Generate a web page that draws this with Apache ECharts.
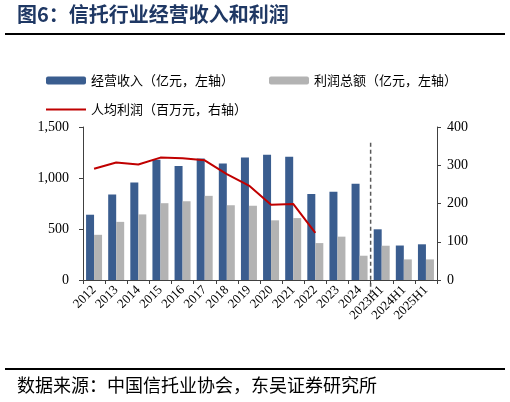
<!DOCTYPE html>
<html>
<head>
<meta charset="utf-8">
<script src="https://cdn.jsdelivr.net/npm/echarts@6/dist/echarts.min.js"></script>
<style>
  html, body { margin: 0; padding: 0; background: #fff; }
  #main { width: 510px; height: 402px; }
</style>
</head>
<body>
<div id="main"></div>
<script>
// 类目（年度 + 半年度）
var categories = ['2012', '2013', '2014', '2015', '2016', '2017', '2018', '2019', '2020',
  '2021', '2022', '2023', '2024', '2023H1', '2024H1', '2025H1'];
// 经营收入（亿元，左轴）
var revenue = [640, 838, 957, 1178, 1118, 1190, 1142, 1200, 1228, 1208, 843, 865, 943, 497, 338, 350];
// 利润总额（亿元，左轴）
var profit = [443, 570, 643, 753, 772, 825, 733, 728, 585, 607, 362, 425, 238, 336, 202, 202];
// 人均利润（百万元，右轴）
var perCapita = [291, 307, 302, 320, 318, 313, 277, 247, 197, 199, 123, null, null, null, null, null];
// 左右轴刻度
var leftTicks = [0, 1500, 500];
var rightTicks = [0, 400, 100];
// 年度与半年度的分界（第几个类目之后），虚线上下端（左轴数值）
var splitAt = 13;
var splitRange = [1345, -150];

var serif = 'Liberation Serif';
var cjk = 'Noto Sans CJK SC';
var axisColor = '#404040';

var chart = echarts.init(document.getElementById('main'));

function thousands(v) {
  return String(v).replace(/\B(?=(\d{3})+(?!\d))/g, ',');
}

var legendText = { fontSize: 13, fontFamily: cjk, color: '#000' };

var option = {
  backgroundColor: '#fff',
  animation: false,
  graphic: [
    { type: 'text', left: 17, top: 4,
      style: { text: '图6：信托行业经营收入和利润', fontSize: 20, fontWeight: 'bold',
        fontFamily: cjk, fill: '#1f3864' } },
    { type: 'line', shape: { x1: 5, y1: 34, x2: 505, y2: 34 },
      style: { stroke: '#000', lineWidth: 2 } },
    { type: 'line', shape: { x1: 5, y1: 369, x2: 505, y2: 369 },
      style: { stroke: '#000', lineWidth: 2 } },
    { type: 'text', left: 17, top: 376,
      style: { text: '数据来源：中国信托业协会，东吴证券研究所', fontSize: 18,
        fontFamily: cjk, fill: '#000' } }
  ],
  legend: [
    { left: 41, top: 69, itemWidth: 40, itemHeight: 8, itemGap: 5,
      data: ['经营收入（亿元，左轴）'], textStyle: legendText },
    { left: 264, top: 69, itemWidth: 40, itemHeight: 8, itemGap: 5,
      data: ['利润总额（亿元，左轴）'], textStyle: legendText },
    { left: 41, top: 98, itemWidth: 40, itemHeight: 2, itemGap: 5,
      data: [{ name: '人均利润（百万元，右轴）', icon: 'rect' }], textStyle: legendText }
  ],
  grid: { left: 83, right: 73, top: 127, bottom: 122 },
  xAxis: [
    {
      type: 'category',
      data: categories,
      axisLine: { lineStyle: { color: axisColor, width: 1 } },
      axisTick: { show: true, length: 4, lineStyle: { color: axisColor } },
      axisLabel: { interval: 0, rotate: 45, margin: 8, fontSize: 13,
        fontFamily: serif, color: '#000' }
    },
    { type: 'value', min: 0, max: categories.length, show: false }
  ],
  yAxis: [
    {
      type: 'value', min: leftTicks[0], max: leftTicks[1], interval: leftTicks[2],
      axisLine: { show: true, lineStyle: { color: axisColor } },
      axisTick: { show: true, length: 4, lineStyle: { color: axisColor } },
      splitLine: { show: false },
      axisLabel: { margin: 14, fontSize: 14, fontFamily: serif, color: '#000',
        formatter: thousands }
    },
    {
      type: 'value', min: rightTicks[0], max: rightTicks[1], interval: rightTicks[2],
      axisLine: { show: true, lineStyle: { color: axisColor } },
      axisTick: { show: true, length: 4, lineStyle: { color: axisColor } },
      splitLine: { show: false },
      axisLabel: { margin: 10, fontSize: 14, fontFamily: serif, color: '#000' }
    }
  ],
  series: [
    {
      name: '经营收入（亿元，左轴）', type: 'bar', data: revenue,
      barWidth: 8, barGap: '0%', itemStyle: { color: '#3a5d8f' }
    },
    {
      name: '利润总额（亿元，左轴）', type: 'bar', data: profit,
      barWidth: 8, barGap: '0%', itemStyle: { color: '#b3b3b3' }
    },
    {
      name: '人均利润（百万元，右轴）', type: 'line', yAxisIndex: 1, data: perCapita,
      symbol: 'none', lineStyle: { color: '#c00000', width: 2 }, itemStyle: { color: '#c00000' }
    }
  ]
};

chart.setOption(option);

// 年度/半年度分界虚线：位置由坐标轴换算
var p1 = chart.convertToPixel({ xAxisIndex: 1, yAxisIndex: 0 }, [splitAt, splitRange[0]]);
var p2 = chart.convertToPixel({ xAxisIndex: 1, yAxisIndex: 0 }, [splitAt, splitRange[1]]);
var g = option.graphic.slice();
g.push({ type: 'line', silent: true,
  shape: { x1: p1[0], y1: p1[1], x2: p2[0], y2: p2[1] },
  style: { stroke: '#595959', lineWidth: 1.5, lineDash: [4, 3] } });
chart.setOption({ graphic: g });
</script>
</body>
</html>
